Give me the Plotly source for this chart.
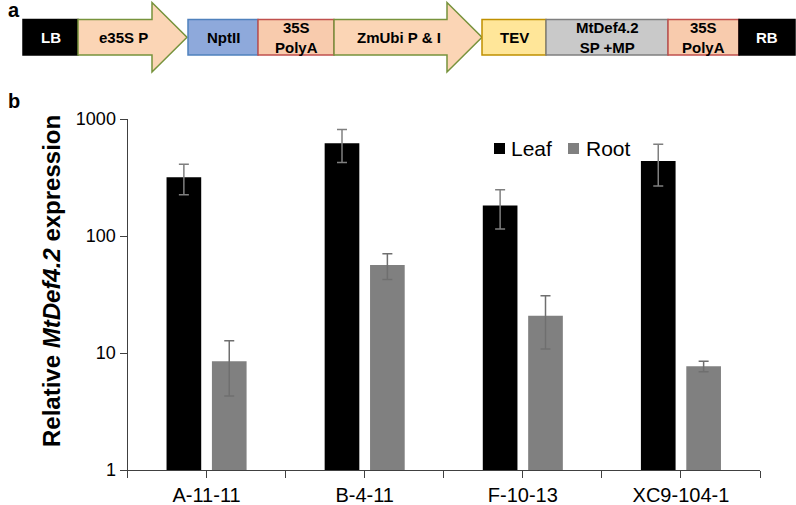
import plotly.graph_objects as go

# ---------------- data ----------------
lines = ["A-11-11", "B-4-11", "F-10-13", "XC9-104-1"]
leaf = [318, 620, 182, 437]
leaf_err = [93, 195, 67, 170]
root = [8.5, 56.5, 20.8, 7.7]
root_err = [4.2, 14, 10, 0.8]
y_tickvals = [1, 10, 100, 1000]
y_ticktext = ["1", "10", "100", "1000"]
series_names = ["Leaf", "Root"]
series_colors = ["#000000", "#808080"]

# construct diagram elements: (label, kind, x0, x1, fill, border, text colour)
construct = [
    ("LB", "box", 23, 78, "#000000", "#000000", "white"),
    ("e35S P", "arrow", 78, 187, "#FBD5B5", "#77933C", "black"),
    ("NptII", "box", 188, 258, "#8EA9DB", "#4F81BD", "black"),
    ("35S<br>PolyA", "box", 258, 334, "#F8CBAD", "#C0504D", "black"),
    ("ZmUbi P & I", "arrow", 334, 482, "#FBD5B5", "#77933C", "black"),
    ("TEV", "box", 482, 546, "#FFE699", "#BF9000", "black"),
    ("MtDef4.2<br>SP +MP", "box", 546, 668, "#C9C9C9", "#7F7F7F", "black"),
    ("35S<br>PolyA", "box", 668, 739, "#F8CBAD", "#C0504D", "black"),
    ("RB", "box", 739, 795, "#000000", "#000000", "white"),
]

W, H = 796, 505
FONT = "Liberation Sans, Arial, sans-serif"


def px(x):
    return x / W


def py(y):
    return (H - y) / H


xpos = list(range(len(lines)))
boundaries = [i - 0.5 for i in range(len(lines) + 1)]

fig = go.Figure()
fig.add_trace(go.Bar(
    x=xpos, y=leaf, name=series_names[0], marker=dict(color=series_colors[0], line=dict(width=0)),
    error_y=dict(type="data", array=leaf_err, color="#7f7f7f", thickness=1.5, width=5),
))
fig.add_trace(go.Bar(
    x=xpos, y=root, name=series_names[1], marker=dict(color=series_colors[1], line=dict(width=0)),
    error_y=dict(type="data", array=root_err, color="#6f6f6f", thickness=1.5, width=5),
))

# ---------------- construct diagram shapes ----------------
shapes = []
annotations = []
top, bot = 19.5, 55
head_top, head_bot = 2.5, 72
for label, kind, x0, x1, fill, border, tc in construct:
    if kind == "box":
        shapes.append(dict(type="rect", xref="paper", yref="paper",
                           x0=px(x0), x1=px(x1), y0=py(bot), y1=py(top),
                           fillcolor=fill, line=dict(color=border, width=1.5), layer="above"))
        cx = (x0 + x1) / 2
    else:
        xh = x1 - 35
        pts = [(x0, top), (xh, top), (xh, head_top), (x1, (top + bot) / 2),
               (xh, head_bot), (xh, bot), (x0, bot)]
        path = "M " + " L ".join(f"{px(a):.5f},{py(b):.5f}" for a, b in pts) + " Z"
        shapes.append(dict(type="path", xref="paper", yref="paper", path=path,
                           fillcolor=fill, line=dict(color=border, width=1.5), layer="above"))
        cx = (x0 + xh) / 2 + 8
    annotations.append(dict(text=f"<b>{label}</b>", x=px(cx), y=py((top + bot) / 2 + 0.5),
                            xref="paper", yref="paper", showarrow=False,
                            font=dict(family=FONT, size=15, color=tc),
                            xanchor="center", yanchor="middle"))

# manual legend
legend_items = [(494, 509), (568, 584)]
for (sx, tx), name, col in zip(legend_items, series_names, series_colors):
    shapes.append(dict(type="rect", xref="paper", yref="paper",
                       x0=px(sx), x1=px(sx + 11), y0=py(154), y1=py(143),
                       fillcolor=col, line=dict(width=0), layer="above"))
    annotations.append(dict(text=name, x=px(tx), y=py(148), xref="paper", yref="paper",
                            showarrow=False, xanchor="left", yanchor="middle",
                            font=dict(family=FONT, size=21, color="black")))

# panel labels
annotations.append(dict(text="<b>a</b>", x=px(6), y=py(10), xref="paper", yref="paper",
                        showarrow=False, xanchor="left", yanchor="middle",
                        font=dict(family=FONT, size=20, color="black")))
annotations.append(dict(text="<b>b</b>", x=px(6), y=py(101), xref="paper", yref="paper",
                        showarrow=False, xanchor="left", yanchor="middle",
                        font=dict(family=FONT, size=20, color="black")))
# y-axis title
annotations.append(dict(text="<b>Relative <i>MtDef4.2</i> expression</b>", x=px(51), y=py(281),
                        xref="paper", yref="paper", showarrow=False, textangle=-90,
                        xanchor="center", yanchor="middle",
                        font=dict(family=FONT, size=24, color="black")))

axis_color = "#404040"
fig.update_layout(
    width=W, height=H, autosize=False,
    margin=dict(l=0, r=0, t=0, b=0),
    paper_bgcolor="white", plot_bgcolor="white",
    barmode="group", bargap=0.426, bargroupgap=0.236,
    font=dict(family=FONT, size=18, color="black"),
    showlegend=False,
    xaxis=dict(domain=[px(127.5), px(760)], range=[-0.5, len(lines) - 0.5],
               showline=True, linecolor=axis_color, linewidth=1,
               tickmode="array", tickvals=xpos, ticktext=lines,
               ticks="outside", ticklen=7, tickcolor=axis_color,
               minor=dict(tickmode="array", tickvals=boundaries, ticks="outside",
                          ticklen=7, tickcolor=axis_color, showgrid=False),
               showgrid=False, zeroline=False,
               tickfont=dict(size=20, color="black"), automargin=False),
    yaxis=dict(domain=[py(470), py(119)], type="log", range=[0, 3], showline=True,
               linecolor=axis_color, linewidth=1, ticks="outside", ticklen=7,
               tickcolor=axis_color, showgrid=False, zeroline=False,
               tickvals=y_tickvals, ticktext=y_ticktext,
               tickfont=dict(size=18, color="black"), automargin=False),
    shapes=shapes, annotations=annotations,
)

fig.write_html("out.html", config={"displayModeBar": False},
               post_script="document.body.style.margin='0';document.body.style.overflow='hidden';")
